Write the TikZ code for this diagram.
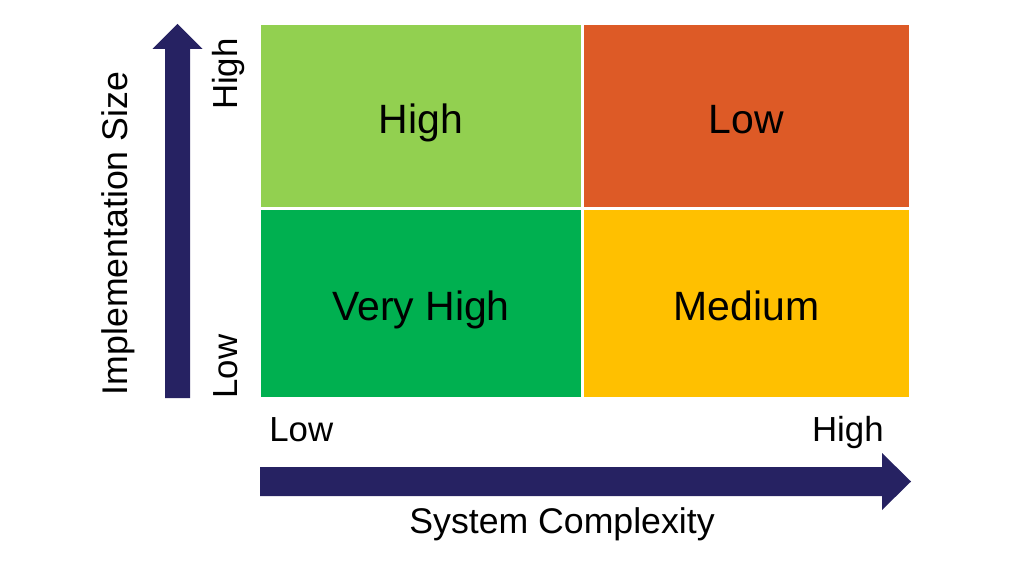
\documentclass[tikz,border=0pt]{standalone}
\usepackage{fontspec}
\setmainfont{Liberation Sans}
\definecolor{cellLight}{RGB}{146,208,80}
\definecolor{cellGreen}{RGB}{0,176,80}
\definecolor{cellRed}{RGB}{221,90,38}
\definecolor{cellYellow}{RGB}{255,192,0}
\definecolor{axisNavy}{RGB}{38,34,98}
\begin{document}
\begin{tikzpicture}[
        cell/.style={rectangle, draw=white, line width=0.06cm, inner sep=0pt, align=center,
            text height=19.5pt, text depth=0pt, font=\fontsize{23.3}{28}\selectfont},
        tick/.style={inner sep=0pt, font=\fontsize{19.8}{24}\selectfont},
        axistitle/.style={inner sep=0pt, font=\fontsize{20.3}{24}\selectfont},
        axis/.style={fill=axisNavy}
    ]
        \useasboundingbox (0,0) rectangle (20.62,11.34);

        % Quadrants
        \node[cell, fill=cellLight, minimum width=6.46cm, minimum height=3.70cm] (highlow) at (8.42,9.02) {High};
        \node[cell, fill=cellRed, minimum width=6.56cm, minimum height=3.70cm] (highhigh) at (14.93,9.02) {Low};
        \node[cell, fill=cellGreen, minimum width=6.46cm, minimum height=3.80cm] (lowlow) at (8.42,5.27) {Very High};
        \node[cell, fill=cellYellow, minimum width=6.56cm, minimum height=3.80cm] (lowhigh) at (14.93,5.27) {Medium};

        % Vertical axis
        \fill[axis] (3.30,3.38) -- (3.80,3.38) -- (3.80,10.36) -- (4.05,10.36)
            -- (3.55,10.86) -- (3.05,10.36) -- (3.30,10.36) -- cycle;
        \node[tick, rotate=90, anchor=base west] (ylow) at (4.74,3.36) {Low};
        \node[tick, rotate=90, anchor=base east] (yhigh) at (4.74,10.58) {High};
        \node[axistitle, rotate=90, anchor=base] (ytitle) at (2.54,6.67) {Implementation Size};

        % Horizontal axis
        \fill[axis] (5.20,1.42) -- (17.64,1.42) -- (17.64,1.14) -- (18.22,1.71)
            -- (17.64,2.28) -- (17.64,2.00) -- (5.20,2.00) -- cycle;
        \node[tick, anchor=base west] (xlow) at (5.38,2.52) {Low};
        \node[tick, anchor=base east] (xhigh) at (17.68,2.52) {High};
        \node[axistitle, anchor=base] (xtitle) at (11.24,0.68) {System Complexity};
    \end{tikzpicture}
\end{document}
